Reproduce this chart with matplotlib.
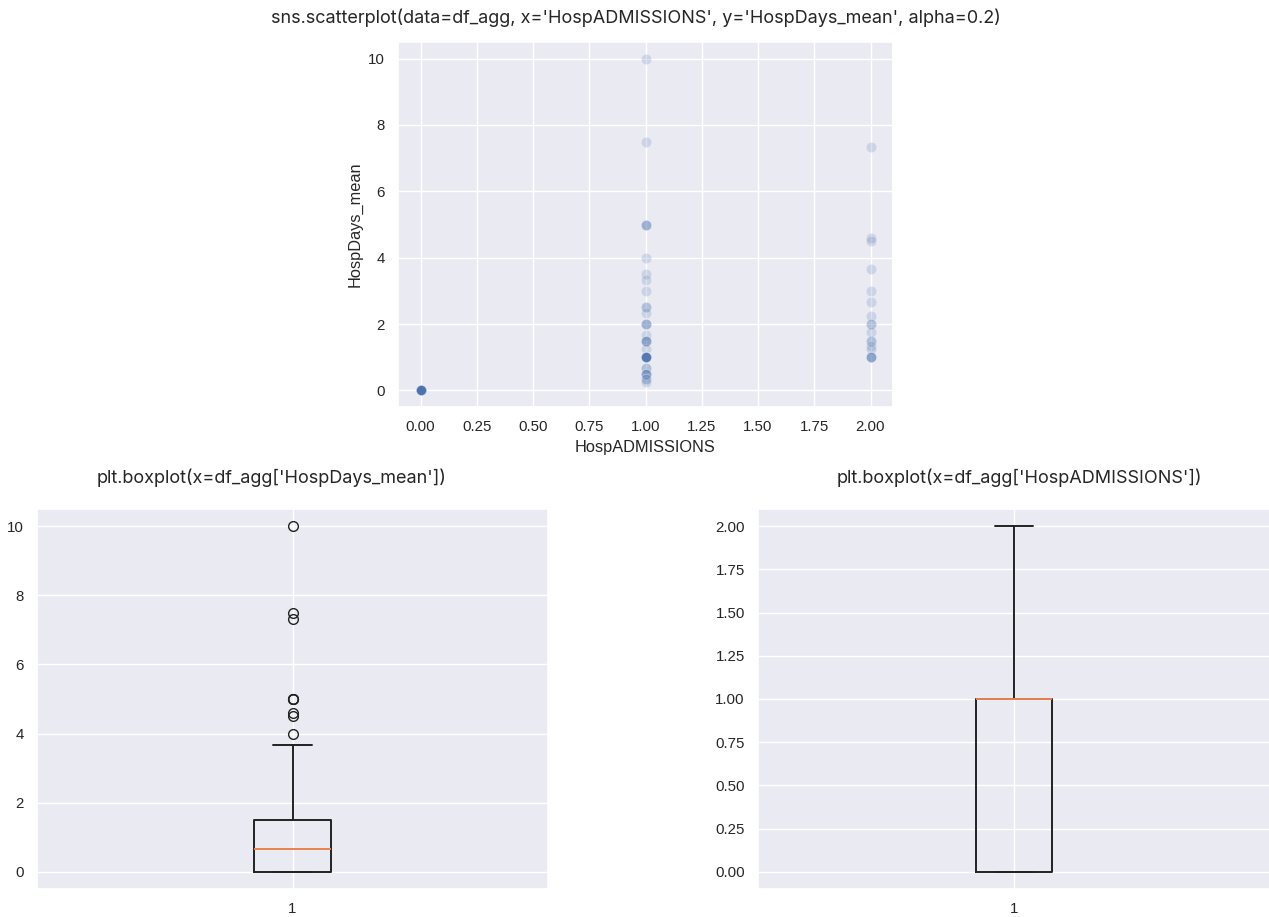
"""Scatter of HospDays_mean vs HospADMISSIONS plus two boxplots."""

import numpy as np
import pandas as pd
import matplotlib
matplotlib.use('Agg')
import matplotlib.pyplot as plt
import seaborn as sns

# Values (value, how many rows share it)
zero_count = 45
adm1_days = [10, 7.5, 5, 4, 3.5, 3.33, 3, 2.5, 2.33, 2, 1.67, 1.5, 1.25, 1, 0.67, 0.5, 0.33, 0.25]
adm1_counts = [1, 1, 3, 1, 1, 1, 1, 2, 1, 3, 1, 4, 1, 12, 2, 4, 2, 1]
adm2_days = [7.33, 4.6, 4.5, 3.67, 3, 2.67, 2.25, 2, 1.75, 1.5, 1.33, 1.25, 1]
adm2_counts = [1, 1, 1, 1, 1, 1, 1, 2, 1, 2, 1, 1, 4]

# =============================================================================

df_agg = pd.DataFrame({
    'HospADMISSIONS': np.concatenate([np.zeros(zero_count),
                                      np.ones(sum(adm1_counts)),
                                      np.full(sum(adm2_counts), 2.0)]),
    'HospDays_mean': np.concatenate([np.zeros(zero_count),
                                     np.repeat(adm1_days, adm1_counts),
                                     np.repeat(adm2_days, adm2_counts)]),
})

sns.set_theme(style='darkgrid')
plt.rcParams['font.family'] = ['Liberation Sans', 'DejaVu Sans']
plt.rcParams['xtick.labelsize'] = 10.8
plt.rcParams['ytick.labelsize'] = 10.8
plt.rcParams['axes.labelsize'] = 11.8
for part in ['boxprops', 'whiskerprops', 'capprops', 'medianprops']:
    plt.rcParams['boxplot.%s.linewidth' % part] = 1.4
plt.rcParams['boxplot.boxprops.color'] = '#222222'
plt.rcParams['boxplot.whiskerprops.color'] = '#222222'
plt.rcParams['boxplot.capprops.color'] = '#222222'
plt.rcParams['boxplot.medianprops.color'] = '#E8834E'
plt.rcParams['boxplot.flierprops.markersize'] = 7
plt.rcParams['boxplot.flierprops.markeredgecolor'] = '#222222'
title_font = dict(family=['Inter', 'DejaVu Sans'], size=13)

W, H = 1269, 917
fig = plt.figure(figsize=(W / 100, H / 100), dpi=100)

def box(l, t, r, b):
    return [l / W, 1 - b / H, (r - l) / W, (b - t) / H]

# Top: scatter
ax1 = fig.add_axes(box(398, 42, 893, 407))
sns.scatterplot(data=df_agg, x='HospADMISSIONS', y='HospDays_mean', alpha=0.2, s=55, ax=ax1)
ax1.set_xticks(np.arange(0, 2.01, 0.25))
fig.text(636 / W, 1 - 18 / H, "sns.scatterplot(data=df_agg, x='HospADMISSIONS', y='HospDays_mean', alpha=0.2)",
         ha='center', va='center', **title_font)

# Bottom left: boxplot of HospDays_mean
ax2 = fig.add_axes(box(37, 509, 548, 889))
ax2.boxplot(x=df_agg['HospDays_mean'])
fig.text(272 / W, 1 - 478 / H, "plt.boxplot(x=df_agg['HospDays_mean'])",
         ha='center', va='center', **title_font)

# Bottom right: boxplot of HospADMISSIONS
ax3 = fig.add_axes(box(758, 509, 1270, 889))
ax3.boxplot(x=df_agg['HospADMISSIONS'])
fig.text(1019 / W, 1 - 478 / H, "plt.boxplot(x=df_agg['HospADMISSIONS'])",
         ha='center', va='center', **title_font)

plt.savefig('out.png', dpi=100)
